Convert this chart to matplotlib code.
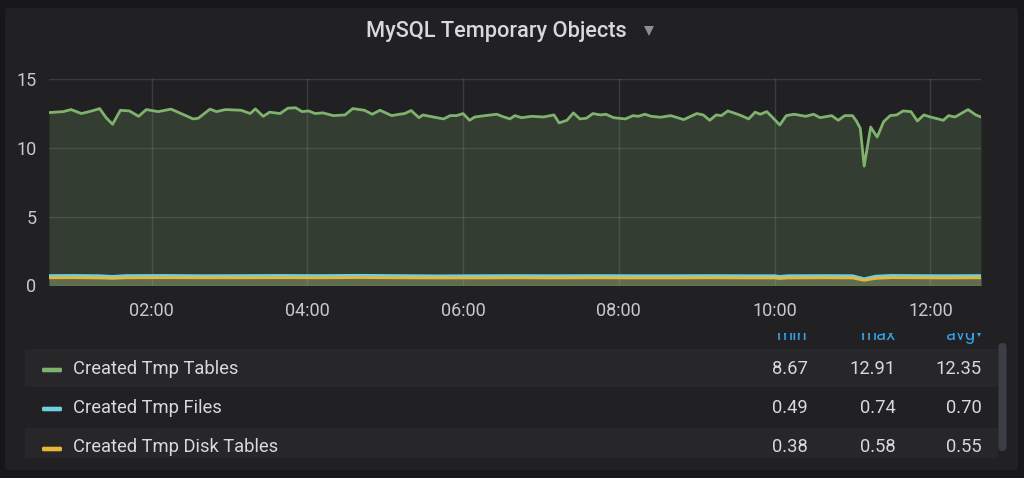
import matplotlib
matplotlib.use('Agg')
import matplotlib.pyplot as plt
from matplotlib.patches import FancyBboxPatch, Rectangle

plt.rcParams['font.family'] = ['Roboto', 'DejaVu Sans']

# ---------------- data (minutes since 00:00) ----------------
green_t = [41, 52, 58, 66, 74, 80, 85, 90, 96, 103, 110, 116, 125, 135, 144, 152, 156,
           165, 170, 177, 189, 196, 200, 206, 211, 219, 225, 231, 236, 241, 246, 252,
           260, 269, 275, 284, 290, 296, 305, 311, 315, 320, 326, 329, 337, 345, 350,
           355, 360, 365, 369, 377, 386, 390, 396, 400, 405, 413, 422, 430, 434, 440,
           445, 450, 455, 460, 466, 470, 476, 485, 491, 495, 500, 505, 512, 520, 530,
           540, 545, 550, 555, 559, 564, 573, 580, 585, 589, 594, 599, 604, 609, 615,
           624, 630, 635, 644, 649, 654, 660, 663, 666, 669, 674, 679, 684, 689, 694,
           699, 705, 710, 715, 720, 730, 734, 739, 749, 755, 759]
green_v = [12.56, 12.63, 12.78, 12.49, 12.68, 12.85, 12.19, 11.71, 12.73, 12.68, 12.29,
           12.78, 12.63, 12.81, 12.44, 12.10, 12.15, 12.81, 12.63, 12.78, 12.73, 12.49,
           12.83, 12.29, 12.59, 12.49, 12.88, 12.91, 12.63, 12.68, 12.49, 12.54, 12.34,
           12.39, 12.85, 12.73, 12.44, 12.73, 12.34, 12.44, 12.49, 12.71, 12.19, 12.39,
           12.24, 12.10, 12.34, 12.34, 12.49, 12.00, 12.24, 12.34, 12.44, 12.29, 12.10,
           12.34, 12.19, 12.29, 12.24, 12.39, 11.81, 12.00, 12.54, 12.10, 12.15, 12.49,
           12.39, 12.44, 12.19, 12.10, 12.34, 12.29, 12.44, 12.29, 12.22, 12.34, 12.05,
           12.49, 12.39, 12.00, 12.39, 12.34, 12.68, 12.39, 12.10, 12.59, 12.44, 12.63,
           12.15, 11.66, 12.34, 12.44, 12.29, 12.44, 12.19, 12.34, 12.00, 12.34, 12.34,
           11.95, 11.42, 8.67, 11.51, 10.78, 11.90, 12.34, 12.39, 12.68, 12.63, 11.95,
           12.39, 12.24, 12.00, 12.34, 12.24, 12.78, 12.39, 12.24]

blue_t = [41, 60, 80, 90, 100, 130, 160, 190, 220, 250, 280, 310, 340, 370, 400, 430,
          460, 490, 520, 550, 580, 600, 604, 610, 640, 660, 669, 678, 690, 710, 730, 759]
blue_v = [0.72, 0.73, 0.71, 0.66, 0.72, 0.73, 0.71, 0.72, 0.73, 0.72, 0.74, 0.72, 0.70,
          0.71, 0.72, 0.71, 0.72, 0.71, 0.71, 0.72, 0.71, 0.71, 0.66, 0.71, 0.72, 0.71,
          0.49, 0.68, 0.73, 0.72, 0.71, 0.72]

yellow_t = [41, 60, 80, 90, 100, 130, 160, 190, 220, 250, 280, 310, 340, 370, 400, 430,
            460, 490, 520, 550, 580, 600, 604, 610, 640, 660, 669, 678, 690, 710, 730, 759]
yellow_v = [0.56, 0.57, 0.55, 0.52, 0.56, 0.57, 0.56, 0.56, 0.57, 0.56, 0.58, 0.56, 0.55,
            0.55, 0.56, 0.55, 0.56, 0.55, 0.55, 0.56, 0.55, 0.55, 0.51, 0.55, 0.56, 0.55,
            0.38, 0.52, 0.57, 0.56, 0.55, 0.56]

x_range = [41, 759]
tick_minutes = [120, 240, 360, 480, 600, 720]
tick_labels = ['02:00', '04:00', '06:00', '08:00', '10:00', '12:00']
y_ticks = [0, 5, 10, 15]

series_names = ['Created Tmp Tables', 'Created Tmp Files', 'Created Tmp Disk Tables']
series_colors = ['#7eb26d', '#6ed0e0', '#eab839']
stat_headers = ['min', 'max', 'avg']
stat_min = ['8.67', '0.49', '0.38']
stat_max = ['12.91', '0.74', '0.58']
stat_avg = ['12.35', '0.70', '0.55']

# ---------------- figure ----------------
W, H = 1024, 478
OUTER = '#161719'
PANEL = '#212124'
TEXT = '#d8d9da'
fig = plt.figure(figsize=(W / 100, H / 100), dpi=100, facecolor=OUTER)

bg = fig.add_axes([0, 0, 1, 1], zorder=0)
bg.set_xlim(0, W)
bg.set_ylim(H, 0)
bg.axis('off')

bg.add_patch(FancyBboxPatch((5, 8), 1013, 462, boxstyle='round,pad=0,rounding_size=3',
                            facecolor=PANEL, edgecolor='none'))

# title
bg.text(496.5, 37.3, 'MySQL Temporary Objects', ha='center', va='baseline', color=TEXT,
        fontsize=15.7, fontweight='medium')
bg.plot([648.5], [31], marker='v', markersize=7, color='#8e8e90', markeredgewidth=0)

# legend table
row_tops = [349, 387, 428]
row_heights = [38, 41, 30]
row_fill = ['#27272a', PANEL, '#27272a']
baselines = [373.5, 413, 452]
swatch_y = [370, 409, 449]
for i in range(3):
    bg.add_patch(Rectangle((25, row_tops[i]), 973, row_heights[i], facecolor=row_fill[i],
                           edgecolor='none'))
    bg.add_patch(FancyBboxPatch((42, swatch_y[i] - 2.3), 20, 4.6,
                                boxstyle='round,pad=0,rounding_size=1.5',
                                facecolor=series_colors[i], edgecolor='none'))
    bg.text(73, baselines[i], series_names[i], ha='left', va='baseline', color=TEXT,
            fontsize=13.2)
    bg.text(808, baselines[i], stat_min[i], ha='right', va='baseline', color=TEXT,
            fontsize=13.2)
    bg.text(895.5, baselines[i], stat_max[i], ha='right', va='baseline', color=TEXT,
            fontsize=13.2)
    bg.text(982, baselines[i], stat_avg[i], ha='right', va='baseline', color=TEXT,
            fontsize=13.2)

# header (partly scrolled out of view)
HEAD = '#33a2e5'
bg.text(808, 340, stat_headers[0], ha='right', va='baseline', color=HEAD, fontsize=13.2)
bg.text(895.5, 340, stat_headers[1], ha='right', va='baseline', color=HEAD, fontsize=13.2)
bg.text(975, 340, stat_headers[2], ha='right', va='baseline', color=HEAD, fontsize=13.2)
bg.plot([979], [333.5], marker='v', markersize=4.5, color=HEAD, markeredgewidth=0)
bg.add_patch(Rectangle((700, 316), 300, 16.5, facecolor=PANEL, edgecolor='none', zorder=5))

# scrollbar
bg.add_patch(FancyBboxPatch((998.5, 343), 8, 108, boxstyle='round,pad=0,rounding_size=4',
                            facecolor='#3b3e46', edgecolor='none'))

# ---------------- main graph ----------------
left, right, top, bottom = 49, 981, 79, 285.5
ax = fig.add_axes([left / W, (H - bottom) / H, (right - left) / W, (bottom - top) / H],
                  zorder=1)
ax.set_facecolor(PANEL)
for s in ax.spines.values():
    s.set_visible(False)

for t, v, c in [(green_t, green_v, series_colors[0]),
                (blue_t, blue_v, series_colors[1]),
                (yellow_t, yellow_v, series_colors[2])]:
    ax.fill_between(t, v, 0, color=c, alpha=0.2, linewidth=0, zorder=2)
    ax.plot(t, v, color=c, linewidth=2.0, zorder=3, solid_joinstyle='round')

ax.set_xlim(*x_range)
ax.set_ylim(0, 15)
ax.set_xticks(tick_minutes)
ax.set_xticklabels(tick_labels)
ax.set_yticks(y_ticks)
ax.set_yticklabels([str(v) for v in y_ticks])
ax.grid(True, color='#ffffff', alpha=0.12, linewidth=1, zorder=1)
ax.set_axisbelow(True)
ax.tick_params(axis='both', length=0, colors='#c8c9ca', labelsize=13)
ax.tick_params(axis='x', pad=12)
ax.tick_params(axis='y', pad=9)

fig.savefig('out.png', dpi=100, facecolor=OUTER)
